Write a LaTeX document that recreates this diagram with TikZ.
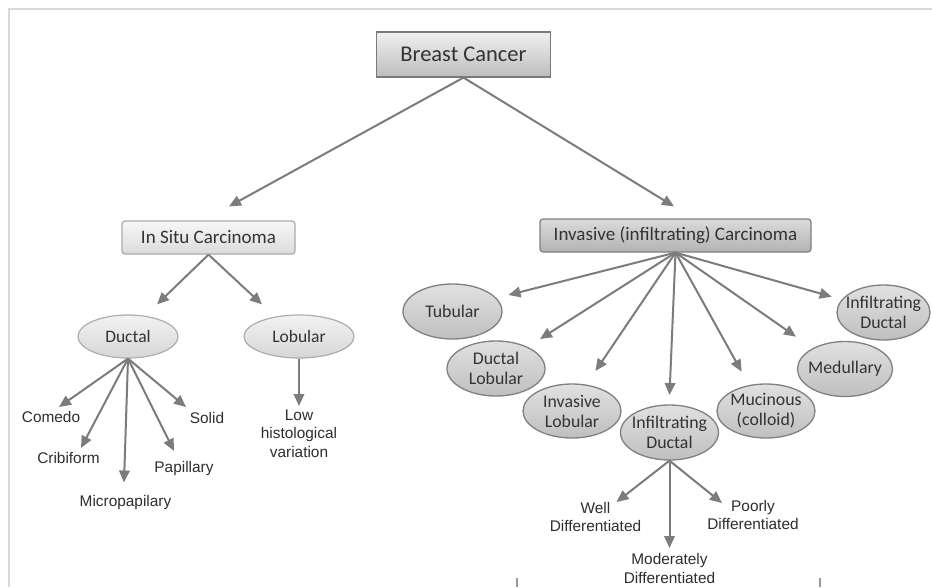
\documentclass[tikz,border=0pt]{standalone}
\usepackage{fontspec}
\setmainfont{Carlito}
\newfontfamily\arialf{Liberation Sans}
\usetikzlibrary{arrows.meta,shapes.geometric}
\definecolor{arrgray}{HTML}{7C7C7C}
\definecolor{txtgray}{HTML}{333333}
\definecolor{leafgray}{HTML}{2E2E2E}
\definecolor{framegray}{HTML}{D9D9D9}
\begin{document}
\begin{tikzpicture}[x=1pt,y=-1pt,
  arr/.style={draw=arrgray, line width=2pt, -{Triangle[length=12pt,width=10.5pt]}},
  topbox/.style={rectangle, draw=black!52, line width=1.2pt, top color=white!94!black, bottom color=white!74!black,
     minimum width=174pt, minimum height=45pt, inner sep=0pt, text=txtgray, font=\fontsize{22.5}{26}\selectfont},
  lightbox/.style={rectangle, rounded corners=3pt, draw=black!33, line width=1.2pt, top color=white!97!black, bottom color=white!86!black,
     inner sep=0pt, minimum height=33pt, text=txtgray, font=\fontsize{19}{22}\selectfont},
  darkbox/.style={rectangle, rounded corners=3pt, draw=black!50, line width=1.2pt, top color=white!86!black, bottom color=white!70!black,
     inner sep=0pt, minimum height=33pt, text=txtgray, font=\fontsize{19}{22}\selectfont},
  lightell/.style={ellipse, draw=black!32, line width=1.2pt, top color=white!95!black, bottom color=white!84!black,
     inner xsep=-6pt, inner ysep=-4pt, minimum height=43pt, text=txtgray, align=center, font=\fontsize{17.5}{20}\selectfont},
  darkell/.style={ellipse, draw=black!50, line width=1.3pt, top color=white!88!black, bottom color=white!75!black,
     inner xsep=-6pt, inner ysep=-4pt, minimum width=98pt, minimum height=55pt, text=txtgray, align=center, font=\fontsize{17.8}{20}\selectfont},
  leaf/.style={inner sep=0pt, text=leafgray, align=center, font=\arialf\fontsize{15.4}{18.3}\selectfont}]
\useasboundingbox (0,0) rectangle (932,587);
\fill[white] (0,0) rectangle (932,587);
% frame
\draw[framegray, line width=1.5pt] (9,587) -- (9,9) -- (932,9);
% top
\node[topbox] (bc) at (463.5,54.5) {Breast Cancer};
\node[lightbox, minimum width=173pt] (insitu) at (208.5,237.5) {In Situ Carcinoma};
\node[darkbox, minimum width=271pt] (inv) at (675.5,235.5) {Invasive (infiltrating) Carcinoma};
\draw[arr] (bc.south) -- ([shift={(20.5,-14)}]insitu.north);
\draw[arr] (bc.south) -- ([shift={(-1.5,-12)}]inv.north);
% in situ branch
\node[lightell, minimum width=100pt] (duc) at (128,336.5) {Ductal};
\node[lightell, minimum width=110pt] (lob) at (299,336.5) {Lobular};
\draw[arr] (insitu.south) -- ([shift={(29,-10)}]duc.north);
\draw[arr] (insitu.south) -- ([shift={(-37,-10)}]lob.north);
\node[leaf] (comedo) at (51,417) {Comedo};
\node[leaf] (crib) at (68.5,457.5) {Cribiform};
\node[leaf] (micro) at (125.5,502.5) {Micropapilary};
\node[leaf] (pap) at (184,468.5) {Papillary};
\node[leaf] (solid) at (207,418) {Solid};
\node[leaf] (low) at (299,433.5) {Low\\histological\\variation};
\draw[arr] (duc.south) -- ([shift={(8,-10)}]comedo.center);
\draw[arr] (duc.south) -- ([shift={(12.5,-9.5)}]crib.center);
\draw[arr] (duc.south) -- ([shift={(-1.5,-20)}]micro.center);
\draw[arr] (duc.south) -- ([shift={(-10,-17.5)}]pap.center);
\draw[arr] (duc.south) -- ([shift={(-21,-11)}]solid.center);
\draw[arr] (lob.south) -- ([shift={(0,-27.5)}]low.center);
% invasive branch
\node[darkell, minimum width=99pt] (tub) at (452.5,311.5) {Tubular};
\node[darkell] (dl) at (496,368.5) {Ductal\\Lobular};
\node[darkell, minimum height=54pt] (il) at (572,411) {Invasive\\Lobular};
\node[darkell] (idc) at (669.5,432.5) {Infiltrating\\Ductal};
\node[darkell, minimum height=54pt] (muc) at (766,411) {Mucinous\\(colloid)};
\node[darkell, minimum width=95pt] (med) at (845,369) {Medullary};
\node[darkell, minimum width=93pt] (idr) at (883.5,312.5) {Infiltrating\\Ductal};
\draw[arr] (inv.south) -- ([shift={(56,-16.5)}]tub.center);
\draw[arr] (inv.south) -- ([shift={(44,-29.5)}]dl.center);
\draw[arr] (inv.south) -- ([shift={(23.5,-40)}]il.center);
\draw[arr] (inv.south) -- ([shift={(0,-37.5)}]idc.center);
\draw[arr] (inv.south) -- ([shift={(-24.4,-39.3)}]muc.center);
\draw[arr] (inv.south) -- ([shift={(-49,-32.3)}]med.center);
\draw[arr] (inv.south) -- ([shift={(-51.8,-15.8)}]idr.center);
% differentiation
\node[leaf] (well) at (595.5,517) {Well\\Differentiated};
\node[leaf] (mod) at (669.5,568.5) {Moderately\\Differentiated};
\node[leaf] (poor) at (753,515) {Poorly\\Differentiated};
\draw[arr] (idc.south) -- ([shift={(21,-15)}]well.center);
\draw[arr] (idc.south) -- ([shift={(0,-20.5)}]mod.center);
\draw[arr] (idc.south) -- ([shift={(-31,-12)}]poor.center);
% cut-off bracket ends at the bottom
\draw[black!40, line width=1.2pt] (517,578) -- (517,587);
\draw[black!40, line width=1.2pt] (820,578) -- (820,587);
\end{tikzpicture}
\end{document}
